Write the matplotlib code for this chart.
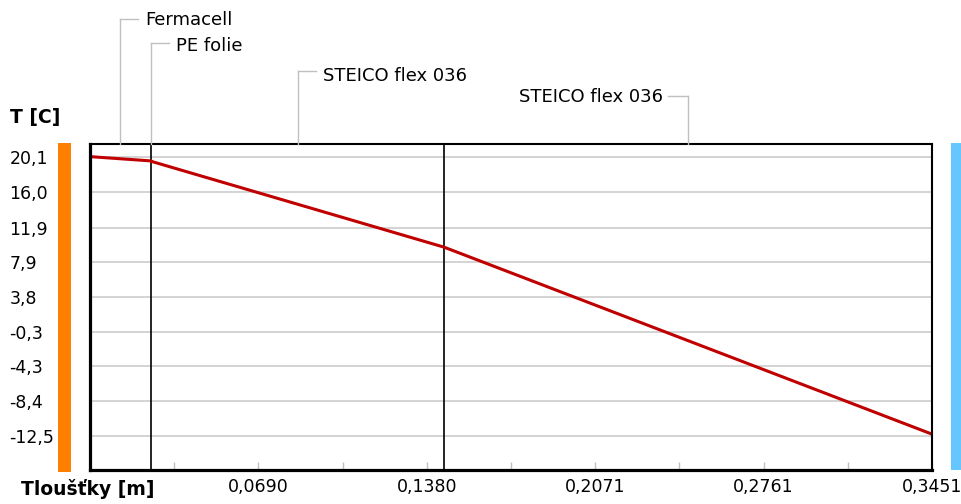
import matplotlib
matplotlib.use("Agg")
import matplotlib.pyplot as plt
from matplotlib.lines import Line2D
from matplotlib.patches import Rectangle

# ---------------- data ----------------
layer_names = ["Fermacell", "PE folie", "STEICO flex 036", "STEICO flex 036"]
layer_bounds = [0.0, 0.025, 0.0251, 0.1451, 0.3451]   # m

depth = [0.0, 0.025, 0.0251, 0.1451, 0.3451]          # m
temperature = [20.2, 19.7, 19.65, 9.6, -12.3]          # C

y_tick_values = [20.1, 16.0, 11.9, 7.9, 3.8, -0.3, -4.3, -8.4, -12.5]
y_tick_labels = ["20,1", "16,0", "11,9", "7,9", "3,8", "-0,3", "-4,3", "-8,4", "-12,5"]

x_tick_values = [0.0690, 0.1380, 0.2071, 0.2761, 0.3451]
x_tick_labels = ["0,0690", "0,1380", "0,2071", "0,2761", "0,3451"]
x_minor_values = [0.0345, 0.1035, 0.1726, 0.2416, 0.3106]

x_label = "Tloušťky [m]"
y_label = "T [C]"

# ---------------- layout helpers ----------------
W, H = 962, 504
plt.rcParams['font.family'] = ['DejaVu Sans']
fig = plt.figure(figsize=(W / 100, H / 100), dpi=100)
fig.patch.set_facecolor("white")


def fx(px):
    return px / W


def fy(py):
    return 1 - py / H


ax_left, ax_right, ax_top, ax_bottom = 90, 932, 144, 470
ax = fig.add_axes([fx(ax_left), fy(ax_bottom), (ax_right - ax_left) / W, (ax_bottom - ax_top) / H])

ax.set_xlim(0, 0.3451)
ax.set_ylim(-16.5, 21.68)

# grid
for v in y_tick_values:
    ax.axhline(v, color="#c8c8c8", lw=1.1, zorder=1)

# layer boundaries
for b in [layer_bounds[1], layer_bounds[3]]:
    ax.axvline(b, color="black", lw=1.2, zorder=2)

# temperature curve
ax.plot(depth, temperature, color="#c00000", lw=2.2, zorder=3, solid_capstyle="butt")

# spines
for s in ["left", "bottom"]:
    ax.spines[s].set_linewidth(2.3)
for s in ["top", "right"]:
    ax.spines[s].set_linewidth(1.5)
for s in ax.spines.values():
    s.set_color("black")
    s.set_zorder(5)

# ticks
ax.set_yticks(y_tick_values)
ax.set_yticklabels(y_tick_labels, fontsize=12.5)
ax.tick_params(axis="y", length=0, pad=58)
plt.setp(ax.get_yticklabels(), ha="left")

ax.set_xticks(x_tick_values)
ax.set_xticklabels(x_tick_labels, fontsize=12.5)
ax.set_xticks(x_minor_values, minor=True)
ax.tick_params(axis="x", which="both", direction="in", length=6, width=1.0,
               color="#c0c0c0", pad=6)

# axis labels
fig.text(fx(10), fy(117), y_label, fontsize=13.5, fontweight="bold", ha="left", va="center")
fig.text(fx(21), fy(489), x_label, fontsize=13.5, fontweight="bold", ha="left", va="center")

# side colour bars
fig.add_artist(Rectangle((fx(58), fy(472)), (71 - 58) / W, (472 - 143) / H,
                         transform=fig.transFigure, color="#ff8000", lw=0))
fig.add_artist(Rectangle((fx(951), fy(470)), (962 - 951) / W, (470 - 143) / H,
                         transform=fig.transFigure, color="#66c6ff", lw=0))

# layer annotations
label_line_y = [19, 43, 71, 96]
label_text_y = [20, 46, 76, 97]
label_side = ["right", "right", "right", "left"]
ann_color = "#c0c0c0"
for i, name in enumerate(layer_names):
    mid = (layer_bounds[i] + layer_bounds[i + 1]) / 2
    xpx = ax.transData.transform((mid, 0))[0]
    ly = label_line_y[i]
    fig.add_artist(Line2D([fx(xpx), fx(xpx)], [fy(ax_top), fy(ly)],
                          transform=fig.transFigure, color=ann_color, lw=1.0))
    if label_side[i] == "right":
        fig.add_artist(Line2D([fx(xpx), fx(xpx + 18)], [fy(ly), fy(ly)],
                              transform=fig.transFigure, color=ann_color, lw=1.0))
        fig.text(fx(xpx + 25), fy(label_text_y[i]), name, fontsize=13,
                 ha="left", va="center")
    else:
        fig.add_artist(Line2D([fx(xpx), fx(xpx - 20)], [fy(ly), fy(ly)],
                              transform=fig.transFigure, color=ann_color, lw=1.0))
        fig.text(fx(xpx - 25), fy(label_text_y[i]), name, fontsize=13,
                 ha="right", va="center")

fig.savefig("out.png", dpi=100)
